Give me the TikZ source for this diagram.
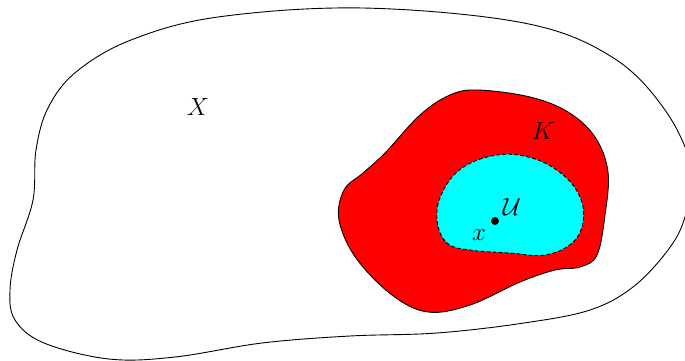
\documentclass[tikz,border=0pt]{standalone}
\definecolor{aqua}{RGB}{0,255,255}
\definecolor{pured}{RGB}{255,0,0}
\begin{document}
\begin{tikzpicture}[x=1pt,y=-1pt,
  lbl/.style={font=\fontsize{29}{34}\selectfont, inner sep=0pt},
  outline/.style={line width=0.9pt, line join=round}]
\useasboundingbox (0,0) rectangle (685,360);
\clip (0,0) rectangle (685,360);
% X
\draw[outline] plot[smooth cycle, tension=0.6] coordinates {
 (363,8) (524,23) (612,57) (665,110) (692,170) (685,217) (668,250) (633,287) (590,310)
 (524,323) (437,333) (350,336) (262,343) (175,357) (109,359) (44,343) (15,320)
 (10,290) (17,250) (33,200) (36,150) (48,108) (76,72) (131,40) (218,17)};
% K
\draw[outline, fill=pured] plot[smooth cycle, tension=0.6] coordinates {
 (478,90) (530,97) (568,112) (595,137) (608,172) (605,215) (597,255) (580,267)
 (555,270) (520,282) (470,305) (428,312) (392,295) (356,258) (339,220) (344,190)
 (363,173) (385,153) (420,115) (450,95)};
% U
\draw[outline, dash pattern=on 4pt off 2pt, fill=aqua] plot[smooth cycle, tension=0.65] coordinates {
 (497,155) (532,158) (562,174) (580,197) (583,222) (572,243) (545,255) (510,253)
 (470,250) (447,243) (437,220) (442,193) (462,168)};
\node[circle, fill=black, inner sep=0pt, minimum size=8pt] (pt) at (495,221) {};
\node[lbl] (lX) at (198,107) {$X$};
\node[lbl] (lK) at (543,131) {$K$};
\node[lbl] (lU) at (512,207) {$\mathcal{U}$};
\node[lbl] (lx) at (479,235) {$x$};
\end{tikzpicture}
\end{document}
